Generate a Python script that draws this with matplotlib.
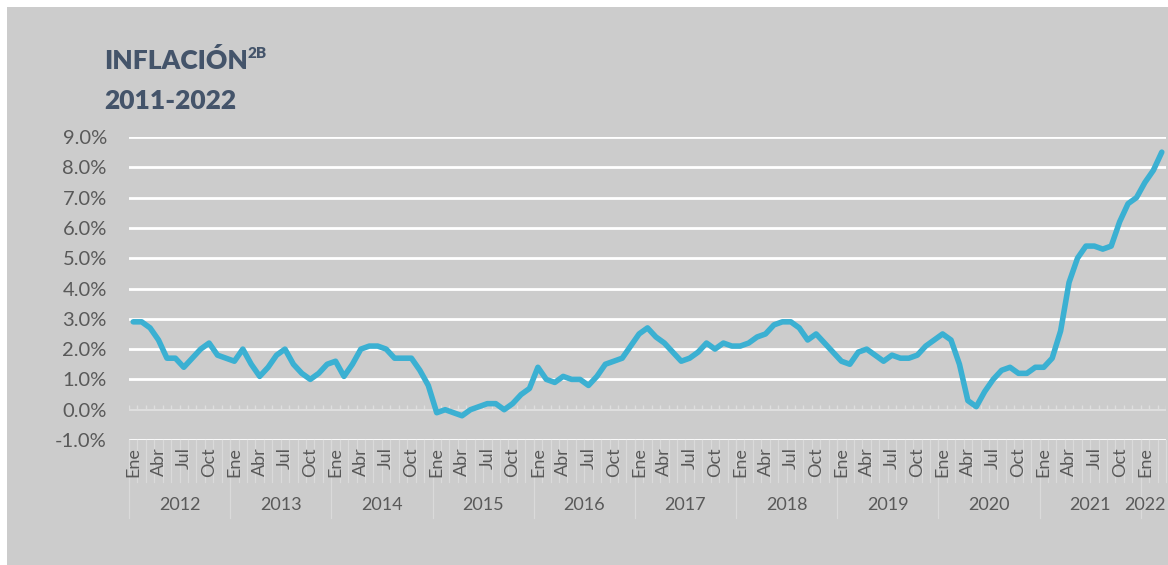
import matplotlib.pyplot as plt
from matplotlib.patches import Rectangle
import matplotlib.transforms as mtransforms

# Monthly inflation, Jan 2012 - Mar 2022 (%)
years = [2012, 2013, 2014, 2015, 2016, 2017, 2018, 2019, 2020, 2021, 2022]
month_names = ["Ene", "Feb", "Mar", "Abr", "May", "Jun", "Jul", "Ago", "Sep", "Oct", "Nov", "Dic"]
shown_months = ["Ene", "Abr", "Jul", "Oct"]

v2012 = [2.9, 2.9, 2.7, 2.3, 1.7, 1.7, 1.4, 1.7, 2.0, 2.2, 1.8, 1.7]
v2013 = [1.6, 2.0, 1.5, 1.1, 1.4, 1.8, 2.0, 1.5, 1.2, 1.0, 1.2, 1.5]
v2014 = [1.6, 1.1, 1.5, 2.0, 2.1, 2.1, 2.0, 1.7, 1.7, 1.7, 1.3, 0.8]
v2015 = [-0.1, 0.0, -0.1, -0.2, 0.0, 0.1, 0.2, 0.2, 0.0, 0.2, 0.5, 0.7]
v2016 = [1.4, 1.0, 0.9, 1.1, 1.0, 1.0, 0.8, 1.1, 1.5, 1.6, 1.7, 2.1]
v2017 = [2.5, 2.7, 2.4, 2.2, 1.9, 1.6, 1.7, 1.9, 2.2, 2.0, 2.2, 2.1]
v2018 = [2.1, 2.2, 2.4, 2.5, 2.8, 2.9, 2.9, 2.7, 2.3, 2.5, 2.2, 1.9]
v2019 = [1.6, 1.5, 1.9, 2.0, 1.8, 1.6, 1.8, 1.7, 1.7, 1.8, 2.1, 2.3]
v2020 = [2.5, 2.3, 1.5, 0.3, 0.1, 0.6, 1.0, 1.3, 1.4, 1.2, 1.2, 1.4]
v2021 = [1.4, 1.7, 2.6, 4.2, 5.0, 5.4, 5.4, 5.3, 5.4, 6.2, 6.8, 7.0]
v2022 = [7.5, 7.9, 8.5]

series = [v2012, v2013, v2014, v2015, v2016, v2017, v2018, v2019, v2020, v2021, v2022]
values = [v for yr in series for v in yr]
labels = [month_names[i] for yr in series for i in range(len(yr))]
n = len(values)

W, H = 1168, 565
fig = plt.figure(figsize=(W / 100, H / 100), dpi=100, facecolor="white")
bg = Rectangle((7 / W, 0), 1, (H - 7) / H, transform=fig.transFigure,
               facecolor="#CCCCCC", edgecolor="none", zorder=-10)
fig.add_artist(bg)

ax = fig.add_axes([129 / W, (H - 440) / H, (1166 - 129) / W, (440 - 137) / H])
ax.set_facecolor("none")
ax.set_zorder(1)
for s in ax.spines.values():
    s.set_visible(False)

ax.set_xlim(-0.5, n - 0.5)
ax.set_ylim(-1, 9)

yt = list(range(-1, 10))
ax.set_yticks(yt)
ax.set_yticklabels([f"{t:.1f}%" for t in yt], fontsize=14.5, color="#595959", family="Lato")
ax.tick_params(axis="y", length=0, pad=16)
ax.set_xticks([])

# gridlines
for t in yt:
    if t != 0:
        ax.axhline(t, color="white", lw=2, zorder=1)
ax.axhline(0, color="#DEDEDE", lw=1.5, zorder=1)
bounds = [i - 0.5 for i in range(n + 1)]
ax.vlines(bounds, 0, 0.15, color="#DEDEDE", lw=1, zorder=1)

# line
ax.plot(range(n), values, color="#3BB0D2", lw=4, solid_joinstyle="round",
        solid_capstyle="round", zorder=3, clip_on=False)

# category axis below
trans = mtransforms.blended_transform_factory(ax.transData, ax.transAxes)
for b in bounds:
    ax.plot([b, b], [0, -42 / 303], transform=trans, color="#DADADA", lw=0.9, clip_on=False, zorder=1)
for i, lab in enumerate(labels):
    if lab in shown_months:
        ax.text(i, -7 / 303, lab, transform=trans, rotation=90, ha="center", va="top",
                fontsize=13, color="#595959", family="Lato")

start = 0
for yr, vals in zip(years, series):
    end = start + len(vals)
    ax.plot([start - 0.5, start - 0.5], [0, -78 / 303], transform=trans, color="#DADADA",
            lw=0.9, clip_on=False, zorder=1)
    if end == n:
        ax.text(end - 0.5, -65 / 303, str(yr), transform=trans, ha="right", va="center",
                fontsize=13, color="#595959", family="Lato")
    else:
        ax.text((start + end - 1) / 2, -65 / 303, str(yr), transform=trans, ha="center",
                va="center", fontsize=13, color="#595959", family="Lato")
    start = end

# title
title_color = "#44546A"
t1 = fig.text(104 / W, 1 - 69 / H, "INFLACIÓN", fontsize=19, fontweight="heavy",
              color=title_color, family="Lato", va="baseline")
fig.text(104 / W, 1 - 109 / H, "2011-2022", fontsize=19, fontweight="heavy",
         color=title_color, family="Lato", va="baseline")
fig.canvas.draw()
bb = t1.get_window_extent()
fig.text(bb.x1 / W, 1 - 58 / H, "2B", fontsize=11, fontweight="heavy",
         color=title_color, family="Lato", va="baseline")

fig.savefig("out.png", dpi=100, facecolor="white")
